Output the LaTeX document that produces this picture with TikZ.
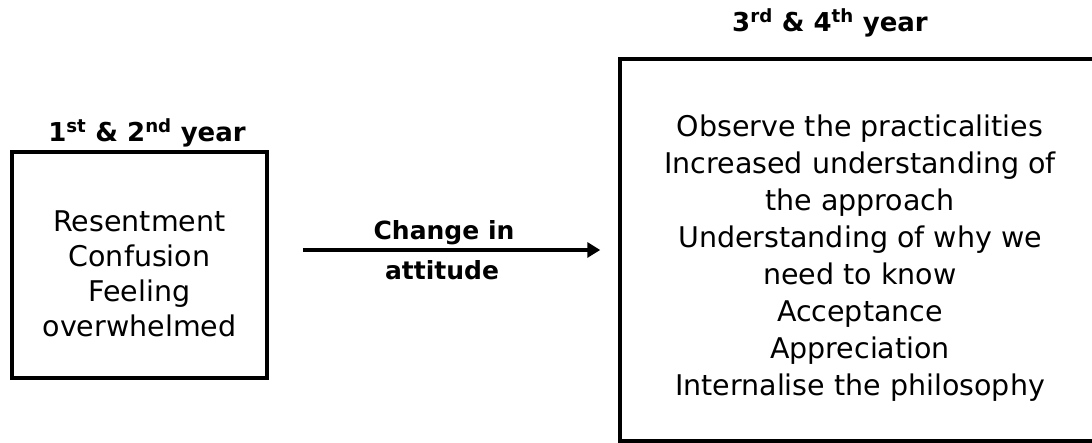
\documentclass[tikz,border=0pt]{standalone}
\usepackage{fontspec}
\setmainfont{DejaVu Sans}
\usetikzlibrary{arrows.meta}
\begin{document}
\begin{tikzpicture}[x=1bp,y=1bp,
  box/.style={draw=black, line width=3.5bp, rectangle, minimum width=#1},
  body/.style={align=center, font=\fontsize{28.5bp}{35bp}\selectfont},
  head/.style={anchor=base, font=\fontsize{26bp}{30bp}\selectfont\bfseries},
  label/.style={anchor=base, font=\fontsize{25bp}{30bp}\selectfont\bfseries},
  link/.style={line width=4bp, -{Triangle[length=13bp,width=15bp]}}]
  \useasboundingbox (0,0) rectangle (1092,443);
  \clip (0,0) rectangle (1092,443);
  % the two stages
  \node[box=255bp, minimum height=226bp] (early) at (139.5,178) {};
  \node[box=480bp, minimum height=382bp] (late) at (860,193) {};
  % stage headings
  \node[head] (earlyhead) at (147,301) {1\textsuperscript{st} \& 2\textsuperscript{nd} year};
  \node[head] (latehead) at (830,411) {3\textsuperscript{rd} \& 4\textsuperscript{th} year};
  % stage contents
  \node[body] (earlytext) at (139.5,169) {Resentment\\Confusion\\Feeling\\overwhelmed};
  \node[body, font=\fontsize{28.5bp}{37bp}\selectfont] (latetext) at (860,185)
    {Observe the practicalities\\Increased understanding of\\the approach\\Understanding of why we\\need to know\\Acceptance\\Appreciation\\Internalise the philosophy};
  % transition
  \coordinate (mid) at (450,193);
  \draw[link, shorten <=34bp, shorten >=18bp] (early.east |- mid) -- (late.west |- mid);
  \node[label] (chg1) at (444,203) {Change in};
  \node[label] (chg2) at (442,163) {attitude};
\end{tikzpicture}
\end{document}
